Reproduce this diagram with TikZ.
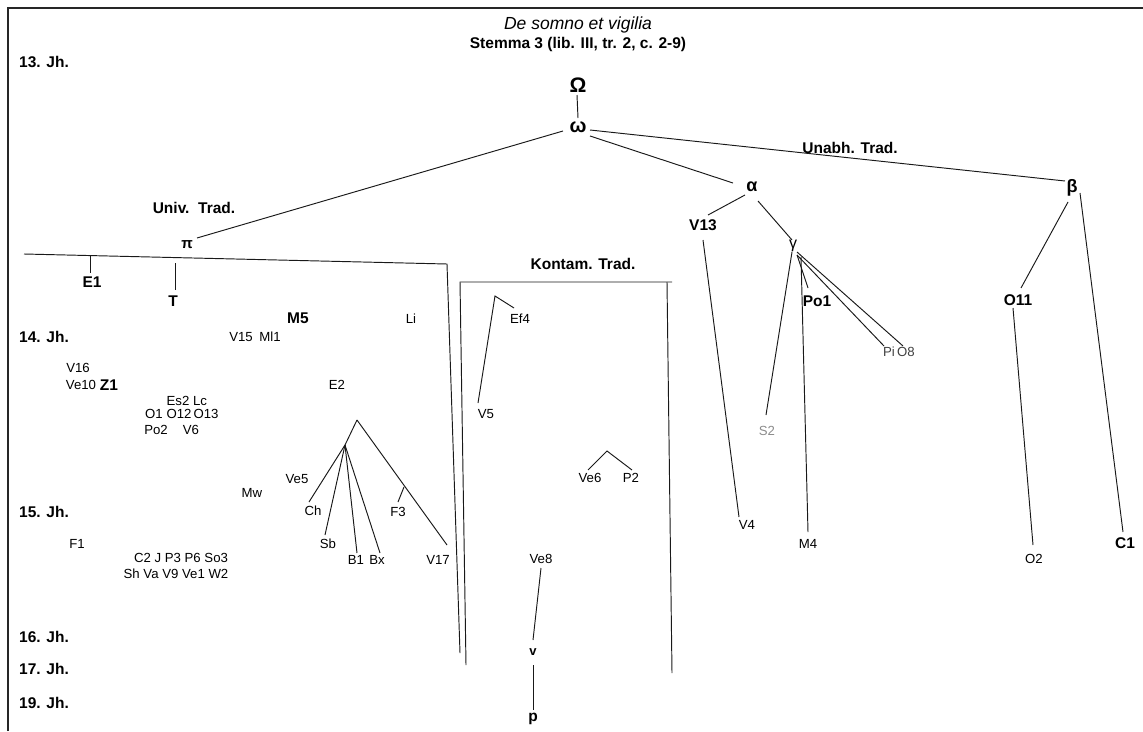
\documentclass[tikz,border=0pt]{standalone}
\usepackage{fontspec}
\setmainfont{Liberation Sans}
\begin{document}
\begin{tikzpicture}[x=1pt,y=-1pt,
  lab/.style={font=\fontsize{13.2}{13.2}\selectfont, inner sep=1pt, text=black},
  blab/.style={font=\fontsize{15.5}{15.5}\selectfont\bfseries, inner sep=1pt, text=black},
  cent/.style={blab, anchor=west},
  greek/.style={font=\fontsize{20}{20}\selectfont\bfseries, inner sep=1pt},
  ln/.style={draw=black!90, line width=0.95pt},
  frm/.style={draw=black!85, line width=1.4pt}]
\useasboundingbox (0,0) rectangle (1143,731);
% frame
\draw[frm] (8,731) -- (8,8) -- (1143,8);
% titles
\node[font=\fontsize{17.5}{17.5}\selectfont\itshape, inner sep=1pt] (title) at (578,25) {De somno et vigilia};
\node[blab] (stemma) at (578,44) {Stemma 3 (lib. III, tr. 2, c. 2-9)};
% centuries
\node[cent] (c13) at (18,62) {13. Jh.};
\node[cent] (c14) at (18,337) {14. Jh.};
\node[cent] (c15) at (18,512) {15. Jh.};
\node[cent] (c16) at (18,637) {16. Jh.};
\node[cent] (c17) at (18,669) {17. Jh.};
\node[cent] (c19) at (18,703) {19. Jh.};
% group labels
\node[blab] (univ) at (194,208) {Univ.\ \ Trad.};
\node[blab] (unabh) at (850,148) {Unabh. Trad.};
\node[blab] (kontam) at (583,264) {Kontam. Trad.};
% hyparchetypes
\node[greek, font=\fontsize{21}{21}\selectfont\bfseries] (Omega) at (578,85) {Ω};
\node[greek] (omega) at (578,127) {ω};
\node[greek, font=\fontsize{15}{15}\selectfont\bfseries] (pi) at (187,245) {π};
\node[greek, font=\fontsize{18}{18}\selectfont\bfseries] (alpha) at (752,187) {α};
\node[greek, font=\fontsize{18}{18}\selectfont\bfseries] (beta) at (1072,188) {β};
\node[greek, font=\fontsize{16}{16}\selectfont] (gamma) at (793,246) {γ};
% right side witnesses
\node[blab] (V13) at (703,225) {V13};
\node[blab] (Po1) at (817,301) {Po1};
\node[lab, text=black!75] (Pi) at (889,352) {Pi};
\node[lab, text=black!75] (O8) at (906,352) {O8};
\node[lab, text=black!45] (S2) at (767,431) {S2};
\node[lab] (M4) at (808,544) {M4};
\node[lab] (V4) at (747,525) {V4};
\node[blab] (O11) at (1018,300) {O11};
\node[blab] (C1) at (1125,543) {C1};
\node[lab] (O2) at (1034,559) {O2};
% left side witnesses
\node[blab] (E1) at (92,282) {E1};
\node[blab] (T) at (173,301) {T};
\node[blab] (M5) at (298,318) {M5};
\node[lab] (Li) at (411,319) {Li};
\node[lab] (V15) at (241,337) {V15};
\node[lab] (Ml1) at (270,337) {Ml1};
\node[lab] (V16) at (78,368) {V16};
\node[lab] (Ve10) at (81,385) {Ve10};
\node[blab] (Z1) at (109,385) {Z1};
\node[lab] (E2) at (337,385) {E2};
\node[lab] (Es2) at (178,401) {Es2};
\node[lab] (Lc) at (200,401) {Lc};
\node[lab] (O1) at (154,414) {O1};
\node[lab] (O12) at (179,414) {O12};
\node[lab] (O13) at (206,414) {O13};
\node[lab] (Po2) at (156,430) {Po2};
\node[lab] (V6) at (191,430) {V6};
\node[lab] (Ve5) at (297,479) {Ve5};
\node[lab] (Mw) at (252,493) {Mw};
\node[lab] (Ch) at (313,511) {Ch};
\node[lab] (F3) at (398,512) {F3};
\node[lab] (Sb) at (328,544) {Sb};
\node[lab] (B1) at (356,560) {B1};
\node[lab] (Bx) at (377,560) {Bx};
\node[lab] (V17) at (438,560) {V17};
\node[lab] (F1) at (77,544) {F1};
\node[lab] (row1) at (181,558) {C2 J P3 P6 So3};
\node[lab] (row2) at (176,574) {Sh Va V9 Ve1 W2};
% contaminated
\node[lab] (Ef4) at (520,319) {Ef4};
\node[lab] (V5) at (486,414) {V5};
\node[lab] (Ve6) at (590,478) {Ve6};
\node[lab] (P2) at (631,478) {P2};
\node[lab] (Ve8) at (541,559) {Ve8};
\node[lab, font=\fontsize{13}{13}\selectfont\bfseries] (v) at (533,652) {v};
\node[blab] (p) at (533,719) {p};
% coordinates
\coordinate (bl) at (24,254);
\coordinate (br) at (447,264);
\coordinate (bb) at (460,653);
\coordinate (E1t) at (90,255.5);
\coordinate (Tt) at (175,263);
\coordinate (e0) at (357,420);
\coordinate (e1) at (345,445);
\coordinate (f3t) at (404,487);
\coordinate (kl) at (460,282);
\coordinate (klb) at (466,665);
\coordinate (kr) at (667,282);
\coordinate (krt) at (672,282);
\coordinate (krb) at (672,673);
\coordinate (k1) at (495,296);
\coordinate (k2) at (607,451);
% connectors: top
\draw[ln] ([shift={(-1,10)}]Omega.center) -- ([shift={(0,-9)}]omega.center);
\draw[ln] ([shift={(-15,4)}]omega.center) -- ([shift={(10,-7)}]pi.center);
\draw[ln] ([shift={(12,9)}]omega.center) -- ([shift={(-19,-4)}]alpha.center);
\draw[ln] ([shift={(12,3)}]omega.center) -- ([shift={(-7,-7)}]beta.center);
\draw[ln] ([shift={(-7,8)}]alpha.center) -- ([shift={(5,-10)}]V13.center);
\draw[ln] ([shift={(6,14)}]alpha.center) -- ([shift={(-1,-6)}]gamma.center);
\draw[ln] ([shift={(-1,6)}]gamma.center) -- ([shift={(-1,-16)}]S2.center);
\draw[ln] ([shift={(4,9)}]gamma.center) -- ([shift={(-9,-13)}]Po1.center);
\draw[ln] ([shift={(4,9)}]gamma.center) -- ([shift={(-5,-6)}]Pi.center);
\draw[ln] ([shift={(4,6)}]gamma.center) -- ([shift={(-3,-6)}]O8.center);
\draw[ln] ([shift={(8,11)}]gamma.center) -- ([shift={(0,-12)}]M4.center);
\draw[ln] ([shift={(0,15)}]V13.center) -- ([shift={(-8,-8)}]V4.center);
\draw[ln] ([shift={(-4,14)}]beta.center) -- ([shift={(3,-12)}]O11.center);
\draw[ln] ([shift={(8,5)}]beta.center) -- ([shift={(-2,-11)}]C1.center);
\draw[ln] ([shift={(-5,8)}]O11.center) -- ([shift={(-1,-14)}]O2.center);
% universitaere Tradition
\draw[ln] (bl) -- (br) -- (bb);
\draw[ln] (E1t) -- ([shift={(-2,-9)}]E1.center);
\draw[ln] (Tt) -- ([shift={(2,-11)}]T.center);
\draw[ln] (e0) -- (e1);
\draw[ln] (e0) -- ([shift={(9,-15)}]V17.center);
\draw[ln] (e1) -- ([shift={(-4,-9)}]Ch.center);
\draw[ln] (e1) -- ([shift={(-3,-9)}]Sb.center);
\draw[ln] (e1) -- ([shift={(1,-7)}]B1.center);
\draw[ln] (e1) -- ([shift={(3,-7)}]Bx.center);
\draw[ln] (f3t) -- ([shift={(0,-10)}]F3.center);
% kontaminierte Tradition
\draw[ln] (klb) -- (kl) -- (krt);
\draw[ln] (kr) -- (krb);
\draw[ln] ([shift={(-8,-11)}]V5.center) -- (k1) -- ([shift={(-6,-11)}]Ef4.center);
\draw[ln] ([shift={(-2,-8)}]Ve6.center) -- (k2) -- ([shift={(1,-8)}]P2.center);
\draw[ln] ([shift={(0,9)}]Ve8.center) -- ([shift={(0,-12)}]v.center);
\draw[ln] ([shift={(0,13)}]v.center) -- ([shift={(0,-9)}]p.center);
\end{tikzpicture}
\end{document}
